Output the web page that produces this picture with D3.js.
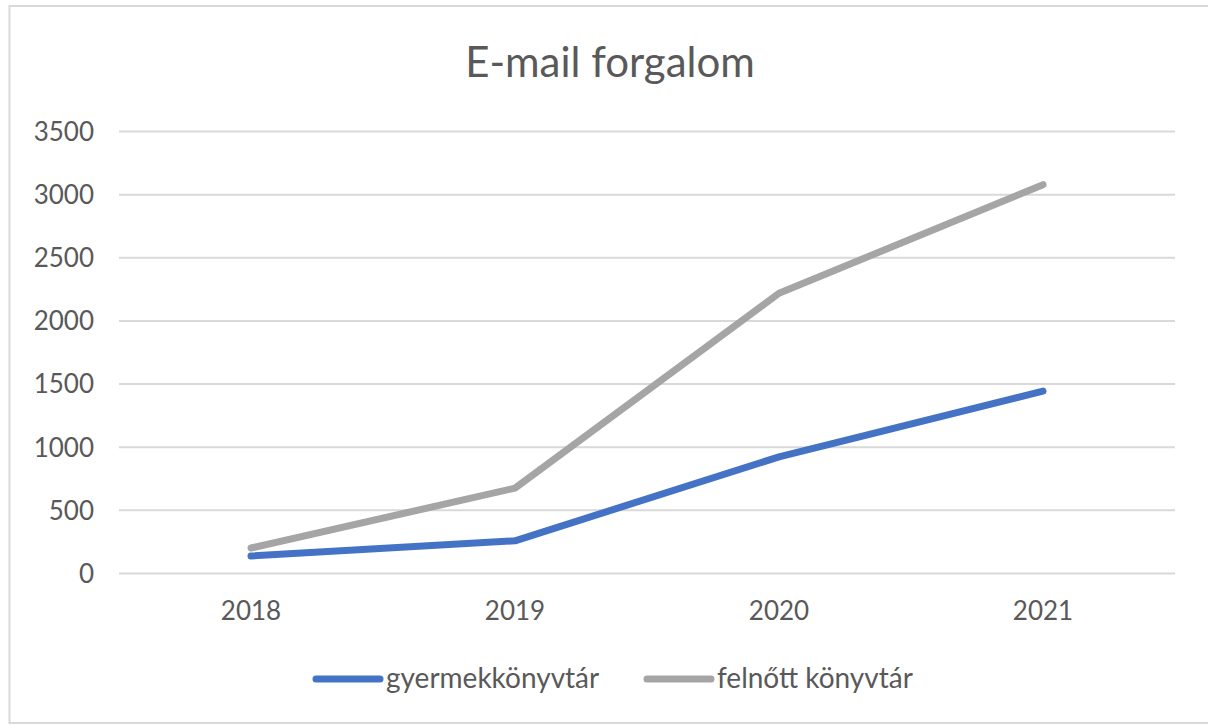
<!DOCTYPE html>
<html>
<head>
<meta charset="utf-8">
<script src="https://cdn.jsdelivr.net/npm/d3@7"></script>
<style>
  html, body { margin: 0; padding: 0; background: #fff; }
  svg text { font-family: Lato, "Liberation Sans", sans-serif; fill: #595959; }
</style>
</head>
<body>
<div id="chart"></div>
<script>
const years = ["2018", "2019", "2020", "2021"];
const gyermek = [135, 255, 920, 1440];
const felnott = [198, 672, 2215, 3075];
const seriesNames = ["gyermekkönyvtár", "felnőtt könyvtár"];
const seriesColors = ["#4472C4", "#A5A5A5"];
const yTicks = [0, 500, 1000, 1500, 2000, 2500, 3000, 3500];

const width = 1208, height = 726;
const plot = {left: 119, right: 1175, top: 131, bottom: 573};

const svg = d3.select("#chart").append("svg")
    .attr("width", width)
    .attr("height", height);

// chart area border
svg.append("rect")
    .attr("x", 9.5).attr("y", 6)
    .attr("width", 1230).attr("height", 717)
    .attr("fill", "none")
    .attr("stroke", "#d9d9d9")
    .attr("stroke-width", 2);

const x = d3.scaleBand().domain(years).range([plot.left, plot.right]);
const y = d3.scaleLinear().domain([0, 3500]).range([plot.bottom, plot.top]);

// gridlines + y labels
const yAxis = svg.append("g")
    .attr("class", "y-axis")
    .attr("transform", "translate(" + plot.left + ",0)")
    .call(d3.axisLeft(y).tickValues(yTicks)
        .tickFormat(d3.format("d"))
        .tickSize(-(plot.right - plot.left))
        .tickPadding(25));
yAxis.select(".domain").remove();
yAxis.selectAll(".tick line").attr("stroke", "#d9d9d9").attr("stroke-width", 2);
yAxis.selectAll(".tick text")
    .attr("font-size", 26)
    .attr("dy", "0.36em");

// x labels
const xAxis = svg.append("g")
    .attr("class", "x-axis")
    .attr("transform", "translate(0," + plot.bottom + ")")
    .call(d3.axisBottom(x).tickSize(0).tickPadding(29));
xAxis.select(".domain").remove();
xAxis.selectAll(".tick text").attr("font-size", 26);

// lines
const line = d3.line()
    .x((d, i) => x(years[i]) + x.bandwidth() / 2)
    .y(d => y(d));

[gyermek, felnott].forEach(function (vals, i) {
    svg.append("path")
        .datum(vals)
        .attr("fill", "none")
        .attr("stroke", seriesColors[i])
        .attr("stroke-width", 7)
        .attr("stroke-linecap", "round")
        .attr("stroke-linejoin", "round")
        .attr("d", line);
});

// title
svg.append("text")
    .attr("x", 610).attr("y", 77)
    .attr("text-anchor", "middle")
    .attr("font-size", 42)
    .text("E-mail forgalom");

// legend
const legendPos = [316, 647];
const legend = svg.append("g").attr("class", "legend");
seriesNames.forEach(function (name, i) {
    const g = legend.append("g").attr("transform", "translate(" + legendPos[i] + ",679)");
    g.append("line")
        .attr("x1", 0).attr("x2", 64)
        .attr("stroke", seriesColors[i])
        .attr("stroke-width", 7)
        .attr("stroke-linecap", "round");
    g.append("text")
        .attr("x", 70).attr("dy", "0.32em")
        .attr("font-size", 28)
        .text(name);
});
</script>
</body>
</html>
